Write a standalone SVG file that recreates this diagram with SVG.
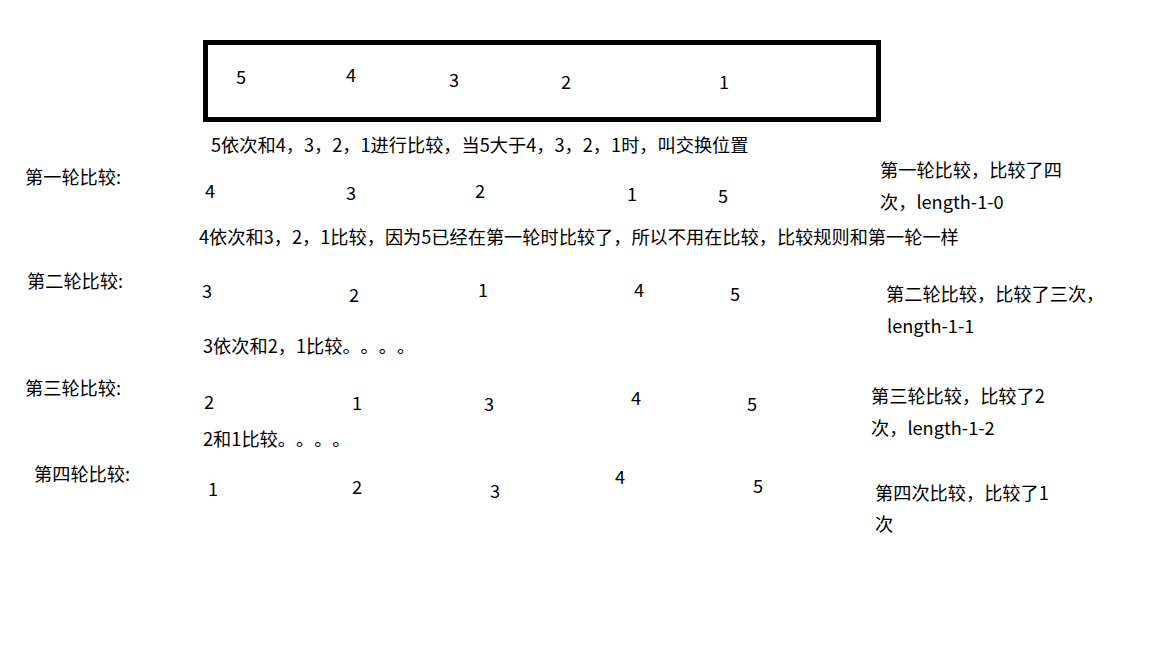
<svg xmlns="http://www.w3.org/2000/svg" width="1152" height="648" viewBox="0 0 1152 648">
<style>
text{font-family:"Noto Sans CJK SC","Microsoft YaHei","Noto Sans",sans-serif;font-size:18.2px;fill:#000;text-spacing-trim:space-all}
.n{text-anchor:middle}
</style>
<rect width="1152" height="648" fill="#fff"/>
<g id="box">
<rect x="205.5" y="42.5" width="673" height="77" fill="none" stroke="#000" stroke-width="5"/>
<text class="n" x="241" y="84">5</text>
<text class="n" x="351" y="82">4</text>
<text class="n" x="454" y="87">3</text>
<text class="n" x="566" y="89">2</text>
<text class="n" x="724" y="89">1</text>
</g>
<g id="desc1"><text x="211" y="152">5依次和4，3，2，1进行比较，当5大于4，3，2，1时，叫交换位置</text></g>
<g id="round1">
<text x="25" y="184">第一轮比较:</text>
<text class="n" x="210" y="198">4</text>
<text class="n" x="351" y="200">3</text>
<text class="n" x="480" y="198">2</text>
<text class="n" x="632" y="201">1</text>
<text class="n" x="723" y="203">5</text>
<text x="880" y="177">第一轮比较，比较了四</text>
<text x="880" y="209">次，length-1-0</text>
</g>
<g id="desc2"><text x="199" y="244">4依次和3，2，1比较，因为5已经在第一轮时比较了，所以不用在比较，比较规则和第一轮一样</text></g>
<g id="round2">
<text x="27" y="288">第二轮比较:</text>
<text class="n" x="207" y="298">3</text>
<text class="n" x="354" y="302">2</text>
<text class="n" x="483" y="297">1</text>
<text class="n" x="639" y="297">4</text>
<text class="n" x="735" y="301">5</text>
<text x="886" y="301">第二轮比较，比较了三次，</text>
<text x="887" y="333">length-1-1</text>
</g>
<g id="desc3"><text x="203" y="353">3依次和2，1比较。。。。</text></g>
<g id="round3">
<text x="25" y="395">第三轮比较:</text>
<text class="n" x="209" y="409">2</text>
<text class="n" x="357" y="410">1</text>
<text class="n" x="489" y="411">3</text>
<text class="n" x="636" y="405">4</text>
<text class="n" x="752" y="411">5</text>
<text x="871" y="403">第三轮比较，比较了2</text>
<text x="871" y="435">次，length-1-2</text>
</g>
<g id="desc4"><text x="203" y="446">2和1比较。。。。</text></g>
<g id="round4">
<text x="34" y="481">第四轮比较:</text>
<text class="n" x="213" y="496">1</text>
<text class="n" x="357" y="494">2</text>
<text class="n" x="495" y="498">3</text>
<text class="n" x="620" y="484">4</text>
<text class="n" x="758" y="493">5</text>
<text x="875" y="500">第四次比较，比较了1</text>
<text x="875" y="531">次</text>
</g>
<g id="connectors"></g>
</svg>
